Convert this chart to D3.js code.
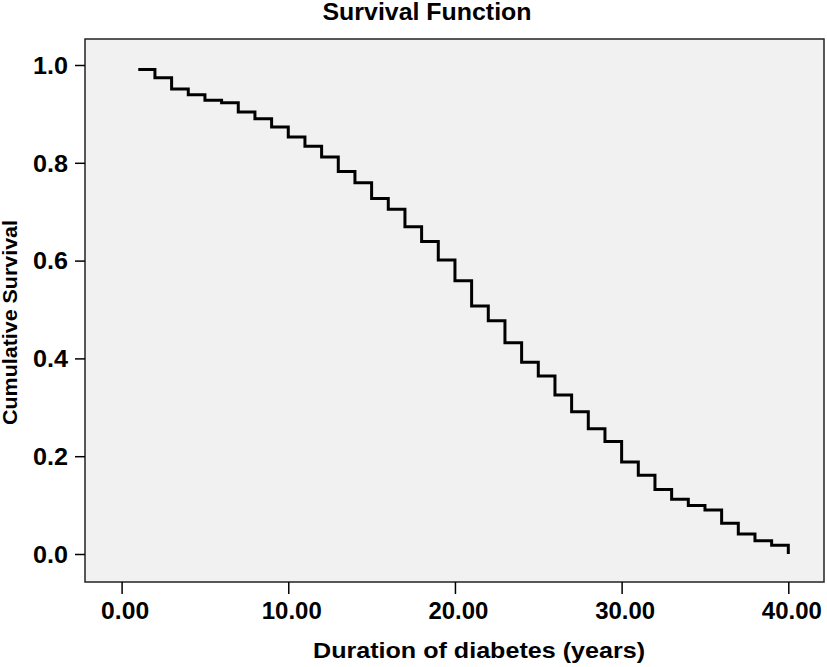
<!DOCTYPE html>
<html>
<head>
<meta charset="utf-8">
<script src="https://cdn.jsdelivr.net/npm/d3@7"></script>
<style>
  html, body { margin: 0; padding: 0; background: #ffffff; }
  text { font-family: "Liberation Sans", Arial, Helvetica, sans-serif; font-weight: bold; fill: #000; }
</style>
</head>
<body>
<svg id="chart" width="827" height="667"></svg>
<script>
// ---- Data ----
const durationYears = [1, 2, 3, 4, 5, 6, 7, 8, 9, 10,
                       11, 12, 13, 14, 15, 16, 17, 18, 19, 20,
                       21, 22, 23, 24, 25, 26, 27, 28, 29, 30,
                       31, 32, 33, 34, 35, 36, 37, 38, 39, 40];
const cumulativeSurvival = [0.991, 0.974, 0.951, 0.939, 0.928, 0.923, 0.904, 0.890, 0.873, 0.853,
                            0.834, 0.812, 0.782, 0.759, 0.727, 0.705, 0.669, 0.639, 0.601, 0.559,
                            0.507, 0.477, 0.432, 0.392, 0.364, 0.325, 0.291, 0.256, 0.230, 0.188,
                            0.161, 0.132, 0.112, 0.099, 0.090, 0.063, 0.041, 0.027, 0.018, 0.000];
const xTickValues = [0, 10, 20, 30, 40];
const yTickValues = [0, 0.2, 0.4, 0.6, 0.8, 1.0];
const titleText = "Survival Function";
const xLabelText = "Duration of diabetes (years)";
const yLabelText = "Cumulative Survival";

// ---- Layout ----
const svg = d3.select("#chart");
const frame = { left: 85, right: 824, top: 39, bottom: 582 };

const x = d3.scaleLinear().domain([0, 40]).range([121.6, 788.3]);
const y = d3.scaleLinear().domain([0, 1]).range([554, 65]);

// plot background frame
svg.append("rect")
  .attr("x", frame.left).attr("y", frame.top)
  .attr("width", frame.right - frame.left)
  .attr("height", frame.bottom - frame.top)
  .attr("fill", "#f1f1f1")
  .attr("stroke", "#222")
  .attr("stroke-width", 1.5);

// x axis
const xAxis = svg.append("g")
  .attr("transform", `translate(0,${frame.bottom})`)
  .call(d3.axisBottom(x).tickValues(xTickValues).tickFormat(d3.format(".2f")).tickSize(12).tickSizeOuter(0));
xAxis.select(".domain").remove();
xAxis.selectAll(".tick line").attr("stroke", "#000").attr("stroke-width", 1.5);
xAxis.selectAll(".tick text")
  .attr("y", 37).attr("dy", 0).attr("dx", 3)
  .style("font-size", "23px")
  .attr("textLength", d => d >= 10 ? 60 : 48)
  .attr("lengthAdjust", "spacingAndGlyphs");

// y axis
const yAxis = svg.append("g")
  .attr("transform", `translate(${frame.left},0)`)
  .call(d3.axisLeft(y).tickValues(yTickValues).tickFormat(d3.format(".1f")).tickSize(10).tickSizeOuter(0));
yAxis.select(".domain").remove();
yAxis.selectAll(".tick line").attr("stroke", "#000").attr("stroke-width", 1.5);
yAxis.selectAll(".tick text")
  .attr("x", -17).attr("dy", "0.36em")
  .style("font-size", "23px")
  .attr("textLength", 35)
  .attr("lengthAdjust", "spacingAndGlyphs");

// survival step line
const line = d3.line()
  .x((d, i) => x(durationYears[i]))
  .y(d => y(d))
  .curve(d3.curveStepAfter);

svg.append("path")
  .datum(cumulativeSurvival)
  .attr("d", line)
  .attr("fill", "none")
  .attr("stroke", "#000")
  .attr("stroke-width", 3)
  .attr("stroke-linejoin", "miter")
  .attr("stroke-linecap", "butt");

// title
svg.append("text")
  .attr("x", 427).attr("y", 19.5)
  .attr("text-anchor", "middle")
  .style("font-size", "23px")
  .attr("textLength", 209)
  .attr("lengthAdjust", "spacingAndGlyphs")
  .text(titleText);

// x label
svg.append("text")
  .attr("x", 479).attr("y", 657.5)
  .attr("text-anchor", "middle")
  .style("font-size", "22px")
  .attr("textLength", 332)
  .attr("lengthAdjust", "spacingAndGlyphs")
  .text(xLabelText);

// y label
svg.append("text")
  .attr("transform", "translate(16.5,322.5) rotate(-90)")
  .attr("text-anchor", "middle")
  .style("font-size", "20px")
  .attr("textLength", 205)
  .attr("lengthAdjust", "spacingAndGlyphs")
  .text(yLabelText);
</script>
</body>
</html>
